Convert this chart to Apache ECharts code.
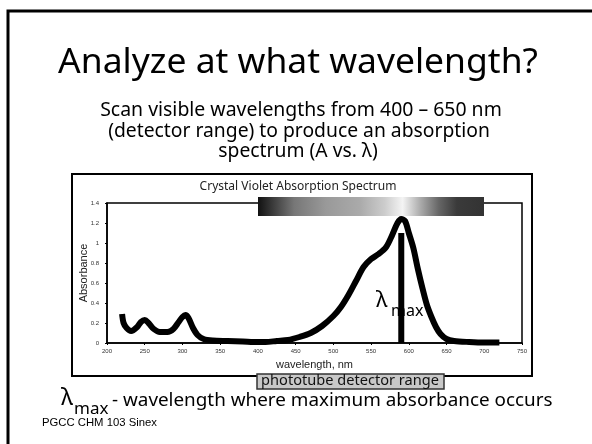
<!DOCTYPE html>
<html><head><meta charset="utf-8">
<script src="https://cdn.jsdelivr.net/npm/echarts@6/dist/echarts.min.js"></script>
<style>html,body{margin:0;padding:0;background:#fff}#c{width:592px;height:444px}</style>
</head><body><div id="c"></div>
<script>
var wavelengths = [220,222,226,232,240,245,250,255,262,270,280,288,295,300,304,308,314,320,328,340,360,380,400,410,425,440,455,470,485,500,510,520,530,540,550,560,570,578,585,590,595,600,606,612,618,624,630,636,642,650,660,680,700,720];
var absorbance  = [0.29,0.2,0.15,0.12,0.16,0.21,0.23,0.2,0.14,0.11,0.11,0.14,0.21,0.26,0.28,0.25,0.15,0.08,0.04,0.025,0.02,0.015,0.01,0.01,0.02,0.03,0.06,0.1,0.17,0.27,0.36,0.48,0.62,0.76,0.84,0.89,0.96,1.08,1.2,1.24,1.22,1.1,0.95,0.74,0.55,0.38,0.26,0.16,0.09,0.04,0.02,0.01,0.005,0.005];
var lambdaMax = 590;
var lambdaMaxTop = 1.1;
var xTicks = {min:200, max:750, interval:50};
var yTicks = {min:0, max:1.4, interval:0.2};

var font = '"Noto Sans", sans-serif';
var ctx = document.createElement('canvas').getContext('2d');
function fit(text, family, width){ ctx.font = '100px ' + family; return (100 * width / ctx.measureText(text).width).toFixed(2) + 'px ' + family; }

var chart = echarts.init(document.getElementById('c'));
var spectrum = wavelengths.map(function(w,i){return [w, absorbance[i]];});
var sub1 = 'Scan visible wavelengths from 400 – 650 nm';
var sub2 = '(detector range) to produce an absorption';
var sub3 = 'spectrum (A vs. λ)';
chart.setOption({
  animation:false,
  grid:{left:107, right:70, top:203, bottom:101, show:true, borderColor:'#000', borderWidth:1.5, backgroundColor:'transparent'},
  xAxis:{type:'value', min:xTicks.min, max:xTicks.max, interval:xTicks.interval,
    name:'wavelength, nm', nameLocation:'middle', nameGap:16,
    nameTextStyle:{fontFamily:'"Liberation Sans", Arial', fontSize:11, color:'#222'},
    axisLine:{lineStyle:{color:'#000', width:1.5}}, axisTick:{length:2, lineStyle:{color:'#000'}},
    axisLabel:{fontSize:6, color:'#333', margin:5, fontFamily:'"Liberation Sans", Arial'}, splitLine:{show:false}},
  yAxis:{type:'value', min:yTicks.min, max:yTicks.max, interval:yTicks.interval,
    axisLine:{show:true, lineStyle:{color:'#000', width:1.5}}, axisTick:{show:true, length:2, lineStyle:{color:'#000'}},
    axisLabel:{fontSize:6, color:'#333', margin:8, fontFamily:'"Liberation Sans", Arial'}, splitLine:{show:false}},
  series:[
    {type:'line', data:spectrum, smooth:0.3, showSymbol:false, lineStyle:{color:'#000', width:6}, z:3},
    {type:'line', data:[[lambdaMax,0],[lambdaMax,lambdaMaxTop]], showSymbol:false, lineStyle:{color:'#000', width:6}, z:4}
  ],
  graphic:[
    {type:'rect', z:-10, shape:{x:8,y:11,width:620,height:460}, style:{fill:'#fff', stroke:'#000', lineWidth:3}},
    {type:'rect', z:-5, shape:{x:72,y:174,width:460,height:202}, style:{fill:'#fff', stroke:'#000', lineWidth:2}},
    {type:'text', z:10, x:298, y:63, style:{text:'Analyze at what wavelength?', font:fit('Analyze at what wavelength?', font, 480), fill:'#000', align:'center', verticalAlign:'middle'}},
    {type:'text', z:10, x:301, y:110, style:{text:sub1, font:fit(sub1, font, 402), fill:'#000', align:'center', verticalAlign:'middle'}},
    {type:'text', z:10, x:299, y:131, style:{text:sub2, font:fit(sub2, font, 382), fill:'#000', align:'center', verticalAlign:'middle'}},
    {type:'text', z:10, x:298, y:151, style:{text:sub3, font:fit(sub2, font, 382).replace(/px.*/,'px ')+font, fill:'#000', align:'center', verticalAlign:'middle'}},
    {type:'text', z:10, x:298, y:187, style:{text:'Crystal Violet Absorption Spectrum', font:fit('Crystal Violet Absorption Spectrum', font, 197), fill:'#222', align:'center', verticalAlign:'middle'}},
    {type:'text', z:10, x:84, y:273, rotation:Math.PI/2, style:{text:'Absorbance', font:'11px "Liberation Sans", Arial', fill:'#222', align:'center', verticalAlign:'middle'}},
    {type:'rect', z:10, shape:{x:258,y:197,width:226,height:19}, style:{fill:{type:'linear',x:0,y:0,x2:1,y2:0,colorStops:[
      {offset:0,color:'#111'},{offset:0.08,color:'#444'},{offset:0.16,color:'#777'},{offset:0.3,color:'#999'},{offset:0.45,color:'#aaa'},
      {offset:0.56,color:'#ccc'},{offset:0.64,color:'#f4f4f4'},{offset:0.72,color:'#aaa'},{offset:0.8,color:'#666'},{offset:0.88,color:'#3a3a3a'},{offset:1,color:'#333'}]}}},
    {type:'text', z:10, x:376, y:301, style:{text:'λ', font:'22px '+font, fill:'#000', align:'left', verticalAlign:'middle'}},
    {type:'text', z:10, x:391, y:311, style:{text:'max', font:'16px '+font, fill:'#000', align:'left', verticalAlign:'middle'}},
    {type:'rect', z:10, shape:{x:257,y:374,width:187,height:15}, style:{fill:'#c8c8c8', stroke:'#333', lineWidth:1.5}},
    {type:'text', z:11, x:350, y:381, style:{text:'phototube detector range', font:fit('phototube detector range', font, 178), fill:'#111', align:'center', verticalAlign:'middle'}},
    {type:'text', z:10, x:61, y:398, style:{text:'λ', font:'23px '+font, fill:'#000', align:'left', verticalAlign:'middle'}},
    {type:'text', z:10, x:74, y:409, style:{text:'max', font:'17px '+font, fill:'#000', align:'left', verticalAlign:'middle'}},
    {type:'text', z:10, x:112, y:401, style:{text:'- wavelength where maximum absorbance occurs', font:fit('- wavelength where maximum absorbance occurs', font, 441), fill:'#000', align:'left', verticalAlign:'middle'}},
    {type:'text', z:10, x:42, y:423, style:{text:'PGCC CHM 103 Sinex', font:fit('PGCC CHM 103 Sinex', '"Liberation Sans", Arial', 115), fill:'#000', align:'left', verticalAlign:'middle'}}
  ]
});
</script></body></html>
